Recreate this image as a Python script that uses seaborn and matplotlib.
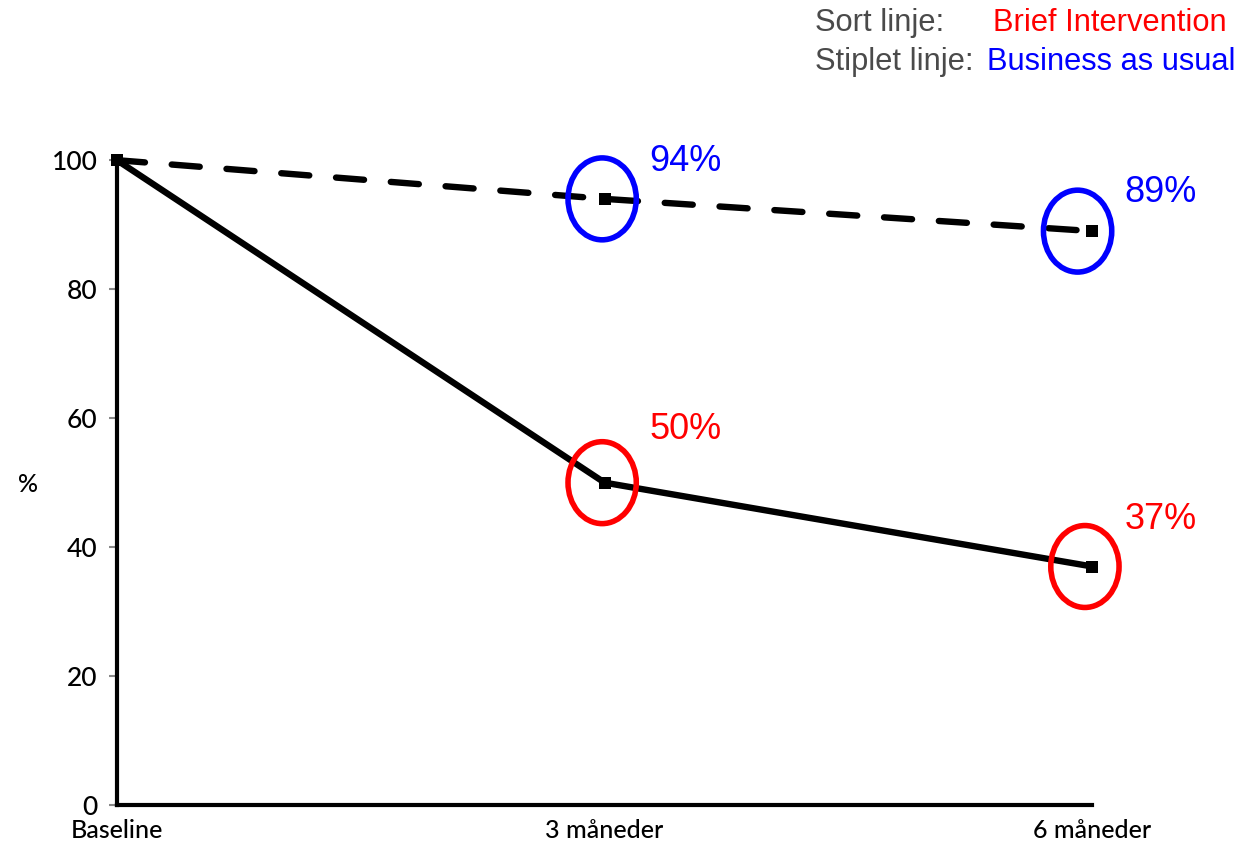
import matplotlib
matplotlib.use("Agg")
import matplotlib.pyplot as plt
from matplotlib.patches import Ellipse
import seaborn as sns
import pandas as pd

# Share of participants over time (%)
periods = ["Baseline", "3 måneder", "6 måneder"]
brief_intervention = [100, 50, 37]
business_as_usual = [100, 94, 89]
y_ticks = [0, 20, 40, 60, 80, 100]

sns.set_theme(style="white")
plt.rcParams["font.family"] = ["Lato", "DejaVu Sans"]

fig = plt.figure(figsize=(12.44, 8.52), dpi=100)
ax = fig.add_axes([0.094, 0.055, 0.784, 0.757])

pos = list(range(len(periods)))
df_bi = pd.DataFrame({"pos": pos, "val": brief_intervention})
df_bau = pd.DataFrame({"pos": pos, "val": business_as_usual})

sns.lineplot(data=df_bau, x="pos", y="val", ax=ax, color="black", lw=4.6,
             marker="s", markersize=9, markeredgewidth=0,
             dashes=False, clip_on=False, zorder=3)
ax.lines[-1].set_dashes((4.4, 4.2))
ax.lines[-1].set_dash_capstyle("round")
sns.lineplot(data=df_bi, x="pos", y="val", ax=ax, color="black", lw=4.6,
             marker="s", markersize=9, markeredgewidth=0,
             clip_on=False, zorder=3)

ax.set_xlim(0, 2)
ax.set_ylim(0, 100)
ax.set_xticks(pos)
ax.set_xticklabels(periods, fontsize=18, color="black", weight="medium")
ax.set_yticks(y_ticks)
ax.set_yticklabels([str(t) for t in y_ticks], fontsize=19, color="black",
                   weight="medium")
ax.set_xlabel("")
ax.set_ylabel("")
ax.text(28 / 1244, 1 - 484 / 852, "%", transform=fig.transFigure,
        fontsize=18, color="black", ha="center", va="center", weight="medium")

for s in ["top", "right"]:
    ax.spines[s].set_visible(False)
for s in ["left", "bottom"]:
    ax.spines[s].set_linewidth(3)
    ax.spines[s].set_color("black")
ax.tick_params(axis="y", length=6, width=1.5, color="#888888", pad=8, left=True)
ax.tick_params(axis="x", length=0, pad=10)
ax.grid(False)

# Highlight follow-up values with rings and percentage labels
def ring(x, y, color, dx=0.0):
    e = Ellipse((x + dx, y), width=0.14, height=12.7, fill=False,
                edgecolor=color, lw=4, clip_on=False, zorder=4)
    ax.add_patch(e)

def label(x, y, text, color, ox, oy):
    ax.annotate(text, (x, y), xytext=(ox, oy), textcoords="offset pixels",
                color=color, fontsize=26, ha="center", va="center",
                family=["Liberation Sans", "DejaVu Sans"])

ring(1, business_as_usual[1], "#0000ff", dx=-0.005)
ring(2, business_as_usual[2], "#0000ff", dx=-0.03)
ring(1, brief_intervention[1], "#ff0000", dx=-0.005)
ring(2, brief_intervention[2], "#ff0000", dx=-0.015)

label(1, business_as_usual[1], f"{business_as_usual[1]}%", "#0000ff", 81, 37)
label(2, business_as_usual[2], f"{business_as_usual[2]}%", "#0000ff", 68, 39)
label(1, brief_intervention[1], f"{brief_intervention[1]}%", "#ff0000", 81, 53)
label(2, brief_intervention[2], f"{brief_intervention[2]}%", "#ff0000", 68, 47)

# Line-style key in the top right corner
key_font = ["Liberation Sans", "DejaVu Sans"]
fig.text(815 / 1244, 1 - 23 / 852, "Sort linje:", color="#4a4a4a",
         fontsize=22.2, va="center", ha="left", family=key_font)
fig.text(993 / 1244, 1 - 23 / 852, "Brief Intervention", color="#ff0000",
         fontsize=22.2, va="center", ha="left", family=key_font)
fig.text(815 / 1244, 1 - 62 / 852, "Stiplet linje:", color="#4a4a4a",
         fontsize=22.2, va="center", ha="left", family=key_font)
fig.text(987 / 1244, 1 - 62 / 852, "Business as usual", color="#0000ff",
         fontsize=22.2, va="center", ha="left", family=key_font)

fig.savefig("out.png", dpi=100)
